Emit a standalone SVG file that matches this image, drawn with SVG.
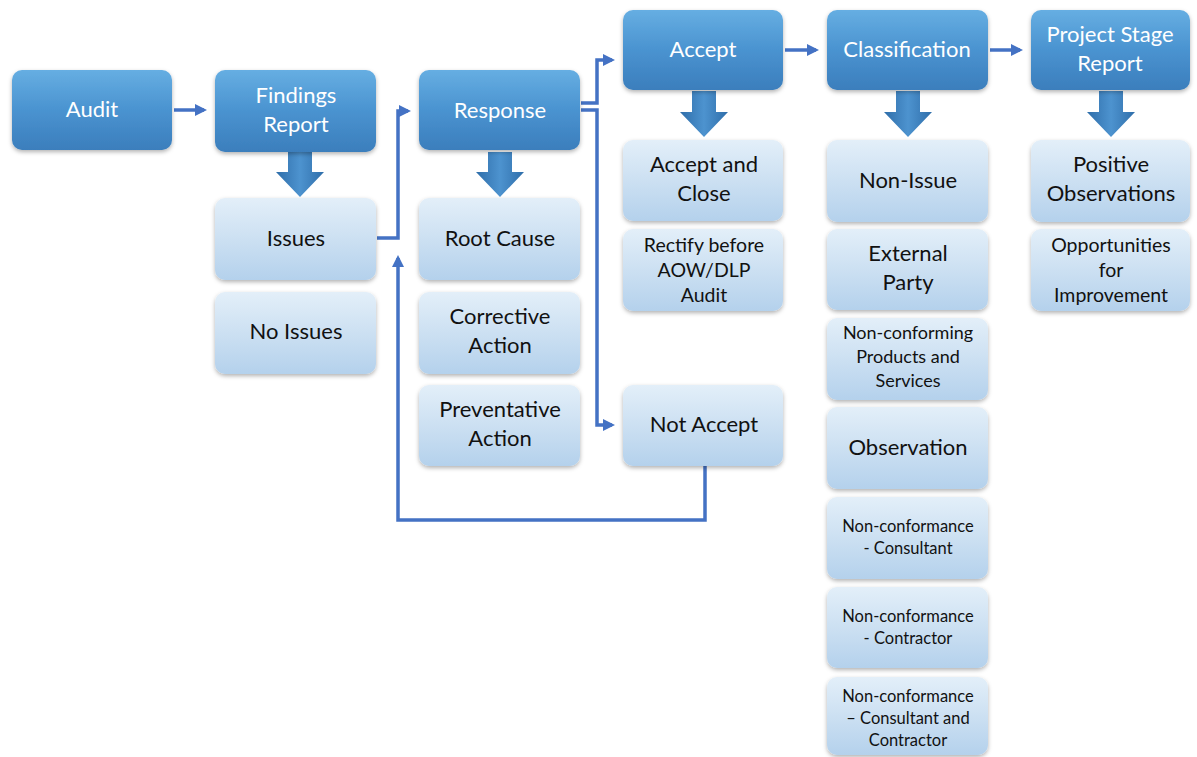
<svg xmlns="http://www.w3.org/2000/svg" width="1197" height="757" viewBox="0 0 1197 757">
<style>
.dk{fill:url(#gDark);filter:url(#sh)}
.lt{fill:url(#gLight);filter:url(#sh)}
.tw{font-family:Lato,"Open Sans",sans-serif;font-size:22px;fill:#ffffff;text-anchor:middle}
.tb{font-family:Lato,"Open Sans",sans-serif;font-size:22px;fill:#111111;text-anchor:middle}
.ts{font-size:19.5px}
.tm{font-size:18px}
.tx{font-size:16.5px}
.ba{fill:url(#gArrow)}
.cn{fill:none;stroke:#4472C4;stroke-width:3.5}
</style>
<defs>
<linearGradient id="gDark" x1="0" y1="0" x2="0" y2="1">
<stop offset="0" stop-color="#66AEE2"/>
<stop offset="0.5" stop-color="#4A93D0"/>
<stop offset="1" stop-color="#3B7EBC"/>
</linearGradient>
<linearGradient id="gLight" x1="0" y1="0" x2="0" y2="1">
<stop offset="0" stop-color="#E3EFF9"/>
<stop offset="0.5" stop-color="#CCE0F2"/>
<stop offset="1" stop-color="#B4D1EC"/>
</linearGradient>
<linearGradient id="gArrow" x1="0" y1="0" x2="1" y2="0">
<stop offset="0" stop-color="#2F6EAA"/>
<stop offset="0.5" stop-color="#4D93CF"/>
<stop offset="1" stop-color="#2F6EAA"/>
</linearGradient>
<filter id="sh" x="-10%" y="-10%" width="120%" height="130%">
<feDropShadow dx="0" dy="2" stdDeviation="2" flood-color="#000" flood-opacity="0.3"/>
</filter>
<marker id="ahb" markerWidth="12" markerHeight="12" refX="9" refY="6" orient="auto" markerUnits="userSpaceOnUse" viewBox="0 0 12 12">
<path d="M0,0 L12,6 L0,12 z" fill="#4472C4"/>
</marker>
</defs>
<rect width="1197" height="757" fill="#ffffff"/>

<g id="connectors">
<path class="cn" d="M174,110 H204" marker-end="url(#ahb)"/>
<path class="cn" d="M377,238 H398 V111 H408" marker-end="url(#ahb)"/>
<path class="cn" d="M705,466 V520 H398 V258" marker-end="url(#ahb)"/>
<path class="cn" d="M581,103 H597 V60 H612" marker-end="url(#ahb)"/>
<path class="cn" d="M581,110 H597 V425 H612" marker-end="url(#ahb)"/>
<path class="cn" d="M785,50 H816" marker-end="url(#ahb)"/>
<path class="cn" d="M990,50 H1020" marker-end="url(#ahb)"/>
</g>

<g id="blockarrows">
<path class="ba" d="M288,152 H312 V172 H324 L300,197 L276,172 H288 Z"/>
<path class="ba" d="M488,152 H512 V172 H524 L500,197 L476,172 H488 Z"/>
<path class="ba" d="M692,91 H716 V112 H728 L704,137 L680,112 H692 Z"/>
<path class="ba" d="M896,91 H920 V112 H932 L908,137 L884,112 H896 Z"/>
<path class="ba" d="M1099,91 H1123 V112 H1135 L1111,137 L1087,112 H1099 Z"/>
</g>

<g id="audit"><rect class="dk" x="12" y="70" width="160" height="80" rx="10"/><text class="tw" x="92" y="117">Audit</text></g>
<g id="findings"><rect class="dk" x="215" y="70" width="161" height="82" rx="10"/><text class="tw" x="296" y="103">Findings</text><text class="tw" x="296" y="132">Report</text></g>
<g id="response"><rect class="dk" x="419" y="70" width="161" height="80" rx="10"/><text class="tw" x="500" y="118">Response</text></g>
<g id="accept"><rect class="dk" x="623" y="10" width="160" height="80" rx="10"/><text class="tw" x="703" y="57">Accept</text></g>
<g id="classification"><rect class="dk" x="827" y="10" width="161" height="80" rx="10"/><text class="tw" x="907" y="57">Classification</text></g>
<g id="projectstage"><rect class="dk" x="1031" y="10" width="159" height="80" rx="10"/><text class="tw" x="1110" y="42">Project Stage</text><text class="tw" x="1110" y="71">Report</text></g>

<g id="issues"><rect class="lt" x="215" y="198" width="161" height="82" rx="10"/><text class="tb" x="296" y="246">Issues</text></g>
<g id="noissues"><rect class="lt" x="215" y="292" width="161" height="82" rx="10"/><text class="tb" x="296" y="339">No Issues</text></g>
<g id="rootcause"><rect class="lt" x="419" y="198" width="161" height="82" rx="10"/><text class="tb" x="500" y="246">Root Cause</text></g>
<g id="corrective"><rect class="lt" x="419" y="292" width="161" height="82" rx="10"/><text class="tb" x="500" y="324">Corrective</text><text class="tb" x="500" y="353">Action</text></g>
<g id="preventative"><rect class="lt" x="419" y="385" width="161" height="81" rx="10"/><text class="tb" x="500" y="417">Preventative</text><text class="tb" x="500" y="446">Action</text></g>
<g id="acceptclose"><rect class="lt" x="623" y="140" width="160" height="81" rx="10"/><text class="tb" x="704" y="172">Accept and</text><text class="tb" x="704" y="201">Close</text></g>
<g id="rectify"><rect class="lt" x="623" y="229" width="160" height="82" rx="10"/><text class="tb ts" x="704" y="252">Rectify before</text><text class="tb ts" x="704" y="277">AOW/DLP</text><text class="tb ts" x="704" y="302">Audit</text></g>
<g id="notaccept"><rect class="lt" x="623" y="385" width="160" height="81" rx="10"/><text class="tb" x="704" y="432">Not Accept</text></g>
<g id="nonissue"><rect class="lt" x="827" y="140" width="161" height="82" rx="10"/><text class="tb" x="908" y="188">Non-Issue</text></g>
<g id="externalparty"><rect class="lt" x="827" y="229" width="161" height="81" rx="10"/><text class="tb" x="908" y="261">External</text><text class="tb" x="908" y="290">Party</text></g>
<g id="nonconforming"><rect class="lt" x="827" y="318" width="161" height="82" rx="10"/><text class="tb tm" x="908" y="339">Non-conforming</text><text class="tb tm" x="908" y="363">Products and</text><text class="tb tm" x="908" y="387">Services</text></g>
<g id="observation"><rect class="lt" x="827" y="407" width="161" height="82" rx="10"/><text class="tb" x="908" y="455">Observation</text></g>
<g id="ncconsultant"><rect class="lt" x="827" y="497" width="161" height="82" rx="10"/><text class="tb tx" x="908" y="532">Non-conformance</text><text class="tb tx" x="908" y="554">- Consultant</text></g>
<g id="nccontractor"><rect class="lt" x="827" y="587" width="161" height="81" rx="10"/><text class="tb tx" x="908" y="622">Non-conformance</text><text class="tb tx" x="908" y="644">- Contractor</text></g>
<g id="ncboth"><rect class="lt" x="827" y="677" width="161" height="78" rx="10"/><text class="tb tx" x="908" y="702">Non-conformance</text><text class="tb tx" x="908" y="724">– Consultant and</text><text class="tb tx" x="908" y="746">Contractor</text></g>
<g id="positive"><rect class="lt" x="1031" y="140" width="159" height="82" rx="10"/><text class="tb" x="1111" y="172">Positive</text><text class="tb" x="1111" y="201">Observations</text></g>
<g id="opportunities"><rect class="lt" x="1031" y="229" width="159" height="82" rx="10"/><text class="tb ts" x="1111" y="252">Opportunities</text><text class="tb ts" x="1111" y="277">for</text><text class="tb ts" x="1111" y="302">Improvement</text></g>
</svg>
